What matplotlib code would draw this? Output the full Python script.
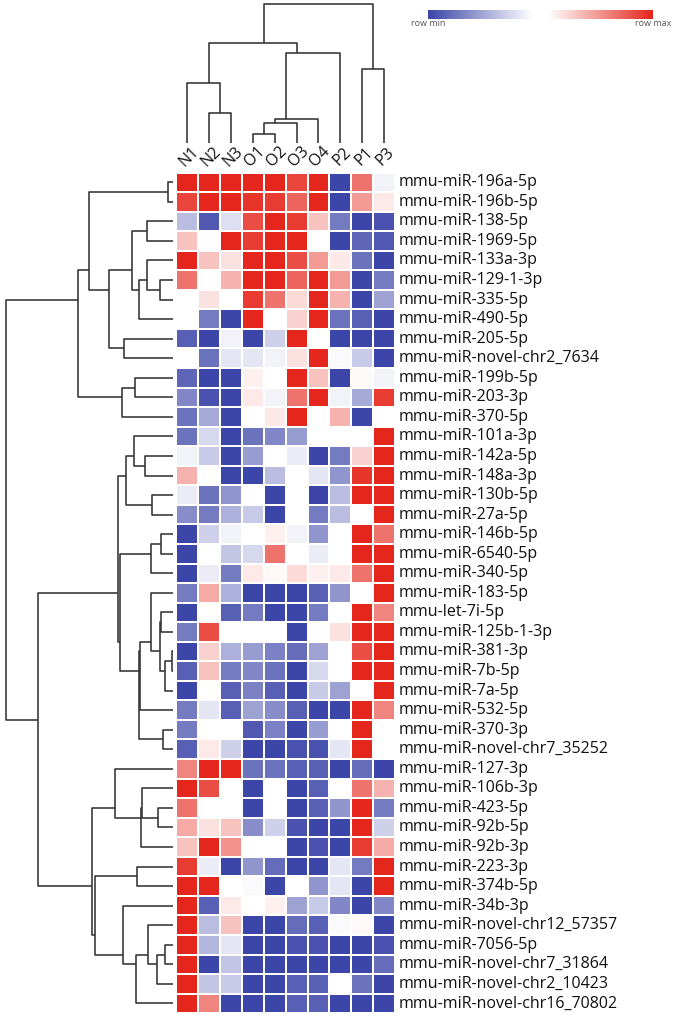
import numpy as np
import matplotlib
matplotlib.use("Agg")
import matplotlib.pyplot as plt
from matplotlib.colors import LinearSegmentedColormap

plt.rcParams['font.family'] = ['Open Sans', 'DejaVu Sans']

# ---------------- data ----------------
samples = ["N1", "N2", "N3", "O1", "O2", "O3", "O4", "P2", "P1", "P3"]

mirnas = [
    "mmu-miR-196a-5p", "mmu-miR-196b-5p", "mmu-miR-138-5p", "mmu-miR-1969-5p",
    "mmu-miR-133a-3p", "mmu-miR-129-1-3p", "mmu-miR-335-5p", "mmu-miR-490-5p",
    "mmu-miR-205-5p", "mmu-miR-novel-chr2_7634", "mmu-miR-199b-5p", "mmu-miR-203-3p",
    "mmu-miR-370-5p", "mmu-miR-101a-3p", "mmu-miR-142a-5p", "mmu-miR-148a-3p",
    "mmu-miR-130b-5p", "mmu-miR-27a-5p", "mmu-miR-146b-5p", "mmu-miR-6540-5p",
    "mmu-miR-340-5p", "mmu-miR-183-5p", "mmu-let-7i-5p", "mmu-miR-125b-1-3p",
    "mmu-miR-381-3p", "mmu-miR-7b-5p", "mmu-miR-7a-5p", "mmu-miR-532-5p",
    "mmu-miR-370-3p", "mmu-miR-novel-chr7_35252", "mmu-miR-127-3p", "mmu-miR-106b-3p",
    "mmu-miR-423-5p", "mmu-miR-92b-5p", "mmu-miR-92b-3p", "mmu-miR-223-3p",
    "mmu-miR-374b-5p", "mmu-miR-34b-3p", "mmu-miR-novel-chr12_57357", "mmu-miR-7056-5p",
    "mmu-miR-novel-chr7_31864", "mmu-miR-novel-chr2_10423", "mmu-miR-novel-chr16_70802",
]

# row-scaled expression (row min = -3, row max = +3), one list per sample
val_N1 = [3, 2.6, -1.2, 1, 3, 2, -0.1, 0, -2.6, -0.1,
          -2.5, -2, -2.3, -2.3, -0.4, 1.2, -0.5, -1.9, -3, -3,
          -3, -2.2, -3, -2.2, -3, -2.6, -3, -2.2, -2.2, -2.6,
          1.8, 3, 2, 1.3, 1, 2.7, 3, 3, 3, 3,
          3, 3, 3]
val_N2 = [3, 3, -2.7, 0, 1, -0.2, 0.6, -2.2, -3, -2.3,
          -3, -2.8, -1.5, -0.8, -1, 0, -2.3, -2.2, -0.9, 0,
          -0.5, 1.3, 0, 2.5, 0.8, 1, 0, -0.6, 0, 0.5,
          3, 2.5, 0, 0.6, 3, -0.5, 3, -2.6, -1.2, -1.3,
          -3, -1.1, 1.8]
val_N3 = [3, 3, -0.7, 3, 0.6, 1.2, 0, -3, -0.4, -0.6,
          -3, -3, -3, -3, -3, -3, -1.8, -1.4, -0.4, -1.1,
          -2.2, -1.4, -2.6, 0, -1.4, -2.2, -2.6, -2.6, 0, -0.9,
          3, 0, -0.2, 1, 1.6, -3, 0, 0.5, 1, -0.6,
          -1.1, -1, -3]
val_O1 = [3, 2.8, 2.5, 2.7, 3, 3, 2.7, 3, -3, -0.6,
          0.4, 0.5, 0, -2.3, -1.7, -3, 0, -1, 0.2, -0.8,
          0.5, -3, -2.2, 0.1, -1.7, -2, -2.1, -1.6, -2.7, -3,
          -2.3, -3, -3, -1.9, -0.1, -1.8, -0.3, 0.1, -3, -3,
          -3, -3, -3]
val_O2 = [3, 2.7, 3, 3, 3, 3, 2, -0.1, -0.9, -0.4,
          0.1, -0.4, 0.5, -2, 0.2, -1.2, -3, -3, 0.4, 2,
          0.3, -3, -3, 0, -2.1, -2.3, -2.6, -1.9, -2.1, -3,
          -2.3, 0, -0.1, -0.9, 0, -2.4, -3, 0.4, -3, -3,
          -3, -3, -3]
val_O3 = [2.6, 2.2, 2.7, 3, 2.5, 2.2, 0.7, 0.8, 3, 0.6,
          3, 2, 3, -1.7, -0.5, 0, 0.1, 0, -0.4, 0,
          0.7, -3, -3, -3, -2.4, -3, -3, -2.6, -3, -2.8,
          -2.6, -3, -3, -2.8, -3, -3, 0, -1.6, -2.4, -2.8,
          -3, -2.6, -2.6]
val_O4 = [3, 3, 1, 0, 1.5, 3, 3, 3, 0.1, 3,
          1, 3, 0, 0, -3, -0.6, -3, -2.2, -1.8, -0.5,
          0.4, -2.6, -2.2, 0, -1.6, -0.8, -1, -3, -1.7, -2.8,
          -2.6, -2.6, -2.6, -3, -2.8, -3, -1.8, -1, -2.6, -2.8,
          -3, -2.6, -2.6]
val_P2 = [-3, -3, -2.2, -3, 0.5, 1.5, 1.2, -2.3, -3, -0.3,
          -3, -0.4, 1.2, 0, -2.2, -1.8, -1.2, -1.2, 0.2, 0,
          0.5, -1.8, 0, 0.6, 0, -0.1, -1.6, -3, 0, -0.6,
          -3, 0, -1.8, -3, -3, -0.6, -0.6, -2, -0.3, -3,
          -3, 0, -3]
val_P1 = [2, 1.5, -3, -2.5, -2.3, -3, -3, -2.6, -3, -1,
          0.3, -1.5, -3, 0, 0.8, 2.8, 3, 0, 3, 3,
          2, 0, 3, 3, 2.5, 3, 0.2, 3, 3, 3,
          -2.4, 2, 3, 3, 2.7, -2.2, -3, -3, 0.3, -3,
          -3, -2.3, -3]
val_P3 = [-0.4, 0.5, -2.8, -2.7, -3, -2.2, -1.6, -3, -3, -3,
          -0.4, 2.7, 0, 3, 3, 3, 3, 3, 2, 3,
          3, 3, 1.8, 3, 3, 3, 3, 1.8, 0, -0.2,
          -3, 1.2, -2.2, -0.9, 1.3, 3, 3, -2, -3, -2.8,
          -2.4, -3, -3]

# column dendrogram linkage (scipy-style ids: leaves 0..9, merges 10..)
col_link_a = [1, 0, 3, 12, 13, 14, 11, 8, 16]
col_link_b = [2, 10, 4, 5, 6, 7, 15, 9, 17]
col_link_h = [30.3, 59.7, 8.7, 19.7, 23.7, 89.7, 99.7, 73.7, 139]

# row dendrogram linkage (leaves 0..42, merges 43..)
row_link_a = [0, 2, 5, 4, 46, 44, 8, 48, 43, 10, 52, 51, 14, 13, 16, 56, 18, 59,
              24, 61, 22, 63, 21, 65, 28, 66, 60, 58, 32, 31, 72, 30, 35, 39, 76,
              38, 78, 37, 75, 74, 70, 54]
row_link_b = [1, 3, 6, 45, 7, 47, 9, 49, 50, 11, 12, 53, 15, 55, 17, 57, 19, 20,
              25, 26, 23, 62, 64, 27, 29, 67, 68, 69, 33, 71, 34, 73, 36, 40, 41,
              77, 42, 79, 80, 81, 82, 83]
row_link_h = [5, 25.6, 12.6, 25.6, 34, 41, 48.6, 64, 83.3, 37.6, 50.6, 95, 27.6, 38.3,
              21, 46.6, 11.6, 22, 1, 7.6, 11.6, 12.6, 22, 32.6, 9.3, 33.3, 52.6, 54.3,
              14.3, 30.5, 31.5, 57.6, 36, 7.6, 16, 24.3, 36.3, 49.3, 77.6, 81, 135, 167]

# ---------------- figure ----------------
W, H = 675, 1016
fig = plt.figure(figsize=(W / 100, H / 100), dpi=100)


def add_ax(left, top, right, bottom):
    return fig.add_axes([left / W, 1 - bottom / H, (right - left) / W, (bottom - top) / H])


cmap = LinearSegmentedColormap.from_list(
    "rowminmax",
    [(0.0, "#3c45a8"), (0.463, "#ffffff"), (0.537, "#ffffff"), (1.0, "#e5261c")])

M = np.array([val_N1, val_N2, val_N3, val_O1, val_O2, val_O3, val_O4,
              val_P2, val_P1, val_P3]).T
nrow, ncol = M.shape

hm_l, hm_t, hm_r = 176.4, 172.5, 394.9
hm_b = hm_t + 19.55 * nrow

ax = add_ax(hm_l, hm_t, hm_r, hm_b)
ax.pcolormesh(np.arange(ncol + 1), np.arange(nrow + 1), M, cmap=cmap, vmin=-3, vmax=3,
              edgecolors="white", linewidth=1.4)
ax.set_xlim(0, ncol)
ax.set_ylim(nrow, 0)
ax.axis("off")

for i, name in enumerate(mirnas):
    ax.text(ncol + 0.19, i + 0.5, name, ha="left", va="center", fontsize=11.5,
            color="#111111", clip_on=False)
for j, s in enumerate(samples):
    ax.text(j + 0.58, -0.8, s, ha="center", va="center", rotation=45, fontsize=11.5,
            color="#111111", clip_on=False)

line_kw = dict(color="#333333", lw=1.15, clip_on=False, solid_capstyle="butt")


def draw_dendro(axd, a_list, b_list, h_list, n, vertical):
    pos = {i: i + 0.5 for i in range(n)}
    hts = {i: 0.0 for i in range(n)}
    leaves = {i: [i] for i in range(n)}
    for k, (a, b, h) in enumerate(zip(a_list, b_list, h_list)):
        node = n + k
        ps = [pos[a], pos[a], pos[b], pos[b]]
        hs = [hts[a], h, h, hts[b]]
        if vertical:
            axd.plot(ps, hs, **line_kw)
        else:
            axd.plot(hs, ps, **line_kw)
        leaves[node] = leaves[a] + leaves[b]
        pos[node] = float(np.mean([p + 0.5 for p in leaves[node]]))
        hts[node] = h


# column dendrogram
axc = add_ax(hm_l, 4, hm_r, 143)
draw_dendro(axc, col_link_a, col_link_b, col_link_h, ncol, True)
axc.set_xlim(0, ncol)
axc.set_ylim(0, max(col_link_h))
axc.axis("off")

# row dendrogram
axr = add_ax(5.7, hm_t, 172.6, hm_b)
draw_dendro(axr, row_link_a, row_link_b, row_link_h, nrow, False)
axr.set_xlim(max(row_link_h), 0)
axr.set_ylim(nrow, 0)
axr.axis("off")

# colour bar
axb = add_ax(427.7, 10, 652.3, 19.3)
axb.imshow(np.linspace(0, 1, 256)[None, :], cmap=cmap, aspect="auto",
           extent=(0, 1, 0, 1))
axb.set_xlim(0, 1)
axb.axis("off")
fig.text(411 / W, 1 - 24 / H, "row min", ha="left", va="center", fontsize=6.5, color="#555555")
fig.text(671 / W, 1 - 24 / H, "row max", ha="right", va="center", fontsize=6.5, color="#555555")

fig.savefig("out.png", dpi=100)
